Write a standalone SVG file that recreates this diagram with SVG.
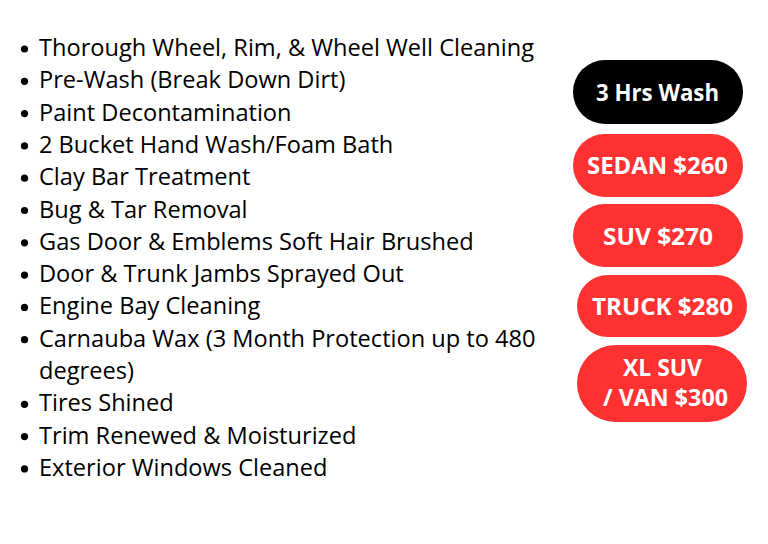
<svg xmlns="http://www.w3.org/2000/svg" width="768" height="544" viewBox="0 0 768 544">
<style>
.li{font-family:"Open Sans","Noto Sans",sans-serif;font-size:23.6px;fill:#000}
.pt{font-family:"Open Sans","Noto Sans",sans-serif;font-weight:700;font-size:22.5px;fill:#fff;text-anchor:middle}
.red{fill:#ff3131}
</style>
<rect width="768" height="544" fill="#fff"/>
<g id="list">
<circle cx="24.5" cy="49" r="3.6"/><text class="li" x="39" y="56">Thorough Wheel, Rim, &amp; Wheel Well Cleaning</text>
<circle cx="24.5" cy="81.3" r="3.6"/><text class="li" x="39" y="88.3">Pre-Wash (Break Down Dirt)</text>
<circle cx="24.5" cy="113.6" r="3.6"/><text class="li" x="39" y="120.6">Paint Decontamination</text>
<circle cx="24.5" cy="145.9" r="3.6"/><text class="li" x="39" y="152.9">2 Bucket Hand Wash/Foam Bath</text>
<circle cx="24.5" cy="178.2" r="3.6"/><text class="li" x="39" y="185.2">Clay Bar Treatment</text>
<circle cx="24.5" cy="210.5" r="3.6"/><text class="li" x="39" y="217.5">Bug &amp; Tar Removal</text>
<circle cx="24.5" cy="242.8" r="3.6"/><text class="li" x="39" y="249.8">Gas Door &amp; Emblems Soft Hair Brushed</text>
<circle cx="24.5" cy="275.1" r="3.6"/><text class="li" x="39" y="282.1">Door &amp; Trunk Jambs Sprayed Out</text>
<circle cx="24.5" cy="307.4" r="3.6"/><text class="li" x="39" y="314.4">Engine Bay Cleaning</text>
<circle cx="24.5" cy="339.7" r="3.6"/><text class="li" x="39" y="346.7">Carnauba Wax (3 Month Protection up to 480</text>
<text class="li" x="39" y="379">degrees)</text>
<circle cx="24.5" cy="404.3" r="3.6"/><text class="li" x="39" y="411.3">Tires Shined</text>
<circle cx="24.5" cy="436.6" r="3.6"/><text class="li" x="39" y="443.6">Trim Renewed &amp; Moisturized</text>
<circle cx="24.5" cy="468.9" r="3.6"/><text class="li" x="39" y="475.9">Exterior Windows Cleaned</text>
</g>
<g id="hrs"><rect x="573" y="60" width="170" height="64" rx="32" fill="#000"/><text class="pt" x="657.5" y="101" textLength="123" lengthAdjust="spacingAndGlyphs">3 Hrs Wash</text></g>
<g id="sedan"><rect class="red" x="573" y="134" width="170" height="63" rx="31.5"/><text class="pt" x="657.5" y="174" textLength="141" lengthAdjust="spacingAndGlyphs">SEDAN $260</text></g>
<g id="suv"><rect class="red" x="573" y="204" width="170" height="63" rx="31.5"/><text class="pt" x="658" y="245" textLength="110" lengthAdjust="spacingAndGlyphs">SUV $270</text></g>
<g id="truck"><rect class="red" x="577" y="275" width="170" height="62" rx="31"/><text class="pt" x="662.5" y="315" textLength="141" lengthAdjust="spacingAndGlyphs">TRUCK $280</text></g>
<g id="xl"><rect class="red" x="577" y="345" width="170" height="77" rx="38.5"/><text class="pt" x="662.5" y="376" textLength="79" lengthAdjust="spacingAndGlyphs">XL SUV</text><text class="pt" x="665.5" y="406" textLength="125" lengthAdjust="spacingAndGlyphs">/ VAN $300</text></g>
</svg>
